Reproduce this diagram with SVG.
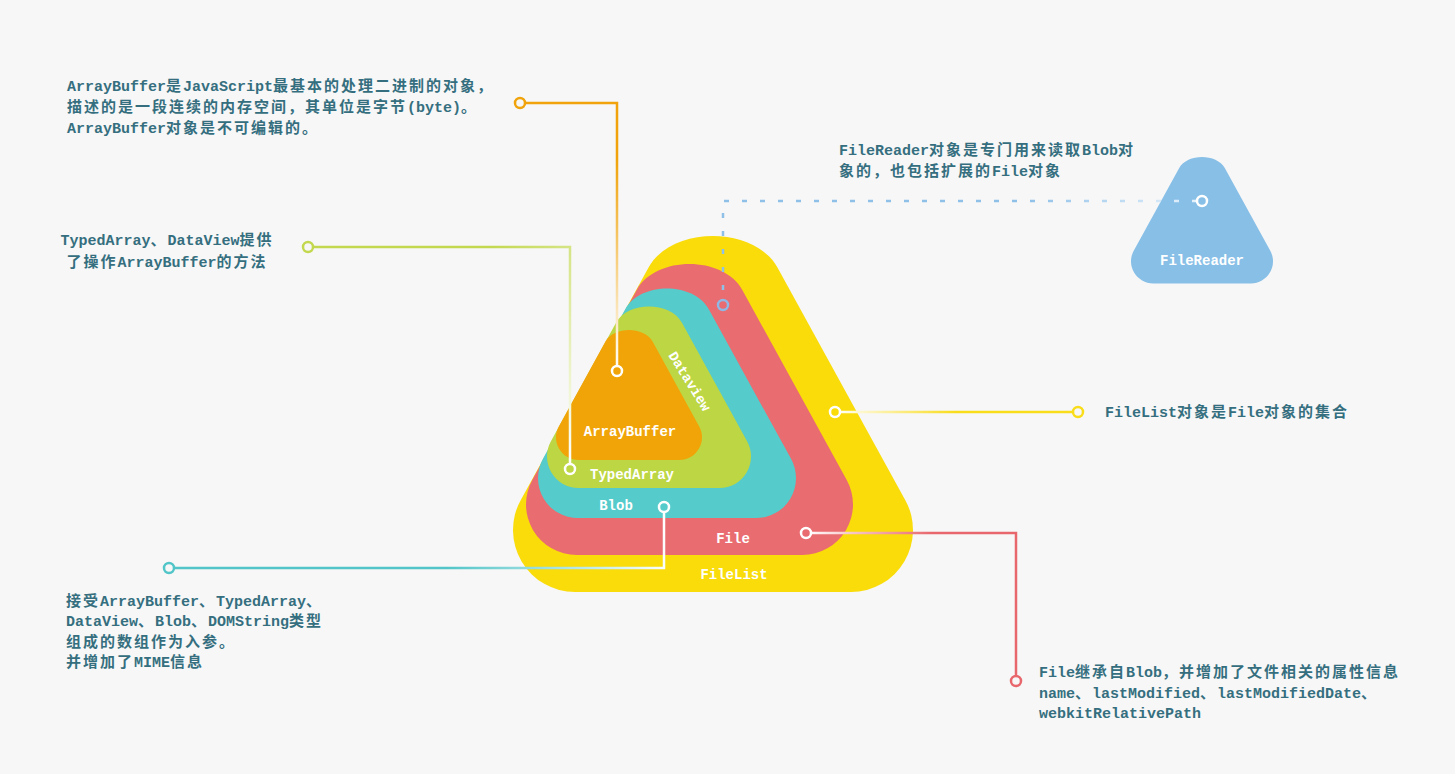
<svg xmlns="http://www.w3.org/2000/svg" width="1455" height="774" viewBox="0 0 1455 774">
<defs>
<style>
.t{font-family:"Liberation Mono","Noto Sans CJK SC",monospace;font-size:15px;font-weight:bold;fill:#356F7F}
.c{letter-spacing:2px}
.lb{font-family:"Liberation Mono","Noto Sans CJK SC",monospace;font-size:14px;font-weight:bold;fill:#FFFFFF;text-anchor:middle}
.ln{fill:none;stroke-width:2.5}
.ring{fill:none;stroke-width:2.5}
</style>
<path id="tri" d="M62,356 A62,62 0 0 1 7.67,264.13 L135.4,31.7 C158.7,-10.6 241.3,-10.6 264.6,31.7 L392.33,264.13 A62,62 0 0 1 338,356 Z"/>
<linearGradient id="gO" gradientUnits="userSpaceOnUse" x1="520" y1="103" x2="617" y2="371"><stop offset="0" stop-color="#F0A30A"/><stop offset="0.3" stop-color="#F0A30A"/><stop offset="1" stop-color="#FFFFFF"/></linearGradient>
<linearGradient id="gG" gradientUnits="userSpaceOnUse" x1="308" y1="247" x2="570" y2="469"><stop offset="0" stop-color="#C3D84F"/><stop offset="0.4" stop-color="#C3D84F"/><stop offset="1" stop-color="#FFFFFF"/></linearGradient>
<linearGradient id="gT" gradientUnits="userSpaceOnUse" x1="169" y1="568" x2="664" y2="507"><stop offset="0" stop-color="#52C5C8"/><stop offset="0.55" stop-color="#52C5C8"/><stop offset="1" stop-color="#FFFFFF"/></linearGradient>
<linearGradient id="gB" gradientUnits="userSpaceOnUse" x1="1202" y1="201" x2="723" y2="305"><stop offset="0" stop-color="#E8F3FC"/><stop offset="0.35" stop-color="#8FC0E8"/><stop offset="1" stop-color="#8FC0E8"/></linearGradient>
<linearGradient id="gY" gradientUnits="userSpaceOnUse" x1="835" y1="412" x2="1078" y2="412"><stop offset="0" stop-color="#FFFFFF"/><stop offset="0.5" stop-color="#F9DC1A"/><stop offset="1" stop-color="#F9DC1A"/></linearGradient>
<linearGradient id="gR" gradientUnits="userSpaceOnUse" x1="806" y1="533" x2="1016" y2="681"><stop offset="0" stop-color="#FFFFFF"/><stop offset="0.4" stop-color="#E8676D"/><stop offset="1" stop-color="#E8676D"/></linearGradient>
</defs>
<rect width="1455" height="774" fill="#F7F7F7"/>

<g id="filelist"><use href="#tri" transform="translate(513,236)" fill="#F9DC0A"/></g>
<g id="file"><use href="#tri" transform="translate(526,264) scale(0.8175)" fill="#E96C70"/></g>
<g id="blob"><use href="#tri" transform="translate(538,288.5) scale(0.645)" fill="#55CBCB"/></g>
<g id="typedarray"><use href="#tri" transform="translate(547,306.5) scale(0.51)" fill="#BDD643"/></g>
<g id="arraybuffer"><use href="#tri" transform="translate(556,330) scale(0.365)" fill="#F1A407"/></g>
<g id="filereader"><use href="#tri" transform="translate(1131,157) scale(0.355)" fill="#88BFE7"/>
<text class="lb" x="1202" y="265">FileReader</text></g>

<g id="labels">
<text class="lb" x="630" y="435.5">ArrayBuffer</text>
<text class="lb" x="632" y="478.5">TypedArray</text>
<text class="lb" x="616" y="509.5">Blob</text>
<text class="lb" x="733" y="542.5">File</text>
<text class="lb" x="734" y="578.5">FileList</text>
<text class="lb" transform="translate(690,381) rotate(58)" x="0" y="5">Dataview</text>
</g>

<g id="connectors">
<path class="ln" d="M525,103 H617 V366" stroke="url(#gO)"/>
<circle class="ring" cx="520" cy="103" r="5" stroke="#F0A30A"/>
<circle class="ring" cx="617" cy="371" r="5" stroke="#FFFFFF"/>
<path class="ln" d="M313,247 H570 V464" stroke="url(#gG)"/>
<circle class="ring" cx="308" cy="247" r="5" stroke="#C3D84F"/>
<circle class="ring" cx="570" cy="469" r="5" stroke="#FFFFFF"/>
<path class="ln" d="M174,568 H664 V512" stroke="url(#gT)"/>
<circle class="ring" cx="169" cy="568" r="5" stroke="#52C5C8"/>
<circle class="ring" cx="664" cy="507" r="5" stroke="#FFFFFF"/>
<path class="ln" d="M1197,201 H723 V300" stroke="url(#gB)" stroke-dasharray="5 13"/>
<circle class="ring" cx="1202" cy="201" r="5" stroke="#FFFFFF"/>
<circle class="ring" cx="723" cy="305" r="5" stroke="#8FB8E4"/>
<path class="ln" d="M840,412 H1073" stroke="url(#gY)"/>
<circle class="ring" cx="835" cy="412" r="5" stroke="#FFFFFF"/>
<circle class="ring" cx="1078" cy="412" r="5" stroke="#F9DC1A"/>
<path class="ln" d="M811,533 H1016 V676" stroke="url(#gR)"/>
<circle class="ring" cx="806" cy="533" r="5" stroke="#FFFFFF"/>
<circle class="ring" cx="1016" cy="681" r="5" stroke="#E8676D"/>
</g>

<g id="note-arraybuffer">
<text class="t" x="67" y="91">ArrayBuffer<tspan class="c">是</tspan>JavaScript<tspan class="c">最基本的处理二进制的对象，</tspan></text>
<text class="t" x="67" y="112"><tspan class="c">描述的是一段连续的内存空间，其单位是字节</tspan>(byte)<tspan class="c">。</tspan></text>
<text class="t" x="67" y="133">ArrayBuffer<tspan class="c">对象是不可编辑的。</tspan></text>
</g>
<g id="note-typedarray">
<text class="t" x="167" y="245" text-anchor="middle">TypedArray<tspan class="c">、</tspan>DataView<tspan class="c">提供</tspan></text>
<text class="t" x="167" y="267" text-anchor="middle"><tspan class="c">了操作</tspan>ArrayBuffer<tspan class="c">的方法</tspan></text>
</g>
<g id="note-blob">
<text class="t" x="66" y="605.5"><tspan class="c">接受</tspan>ArrayBuffer<tspan class="c">、</tspan>TypedArray<tspan class="c">、</tspan></text>
<text class="t" x="66" y="626">DataView<tspan class="c">、</tspan>Blob<tspan class="c">、</tspan>DOMString<tspan class="c">类型</tspan></text>
<text class="t" x="66" y="646.5"><tspan class="c">组成的数组作为入参。</tspan></text>
<text class="t" x="66" y="667"><tspan class="c">并增加了</tspan>MIME<tspan class="c">信息</tspan></text>
</g>
<g id="note-filereader">
<text class="t" x="839" y="155">FileReader<tspan class="c">对象是专门用来读取</tspan>Blob<tspan class="c">对</tspan></text>
<text class="t" x="839" y="176"><tspan class="c">象的，也包括扩展的</tspan>File<tspan class="c">对象</tspan></text>
</g>
<g id="note-filelist">
<text class="t" x="1105" y="417">FileList<tspan class="c">对象是</tspan>File<tspan class="c">对象的集合</tspan></text>
</g>
<g id="note-file">
<text class="t" x="1039" y="677">File<tspan class="c">继承自</tspan>Blob<tspan class="c">，并增加了文件相关的属性信息</tspan></text>
<text class="t" x="1039" y="698">name<tspan class="c">、</tspan>lastModified<tspan class="c">、</tspan>lastModifiedDate<tspan class="c">、</tspan></text>
<text class="t" x="1039" y="718">webkitRelativePath</text>
</g>
</svg>
